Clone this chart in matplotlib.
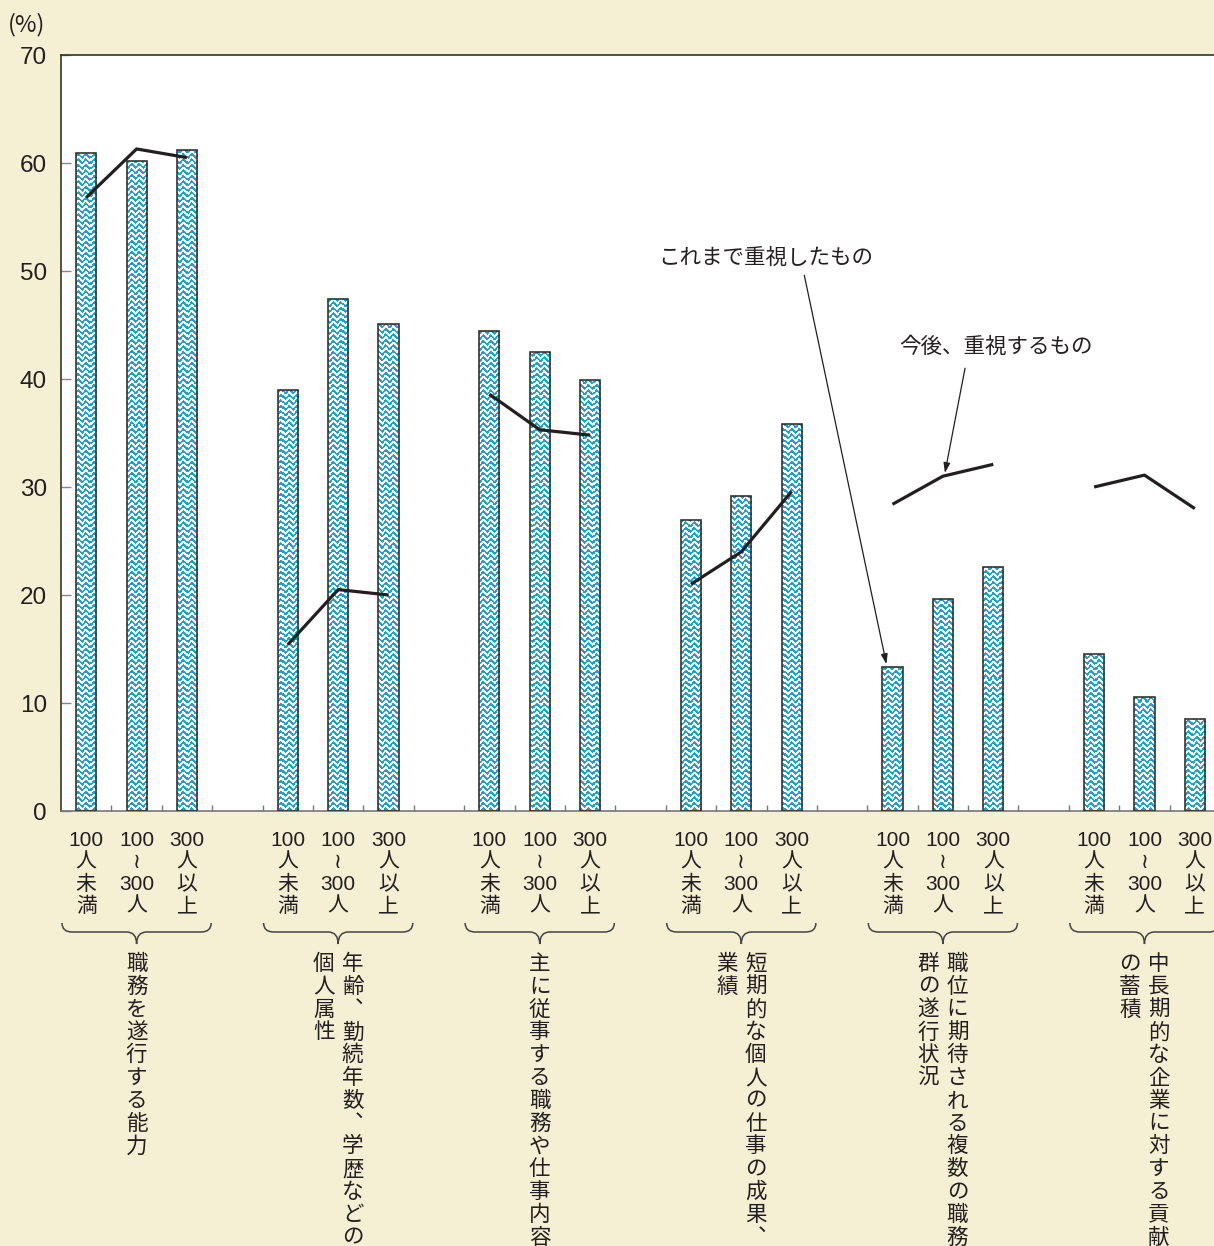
import numpy as np
import matplotlib.pyplot as plt
from matplotlib.path import Path
from matplotlib.patches import PathPatch
from matplotlib.transforms import blended_transform_factory
from matplotlib import font_manager
from matplotlib.ft2font import FT2Font

# data (values in %)
so_far = [[60.9, 60.2, 61.2],
          [39.0, 47.4, 45.1],
          [44.4, 42.5, 39.9],
          [26.9, 29.2, 35.8],
          [13.3, 19.6, 22.6],
          [14.5, 10.6, 8.5]]
future = [[56.8, 61.3, 60.5],
          [15.4, 20.5, 20.0],
          [38.6, 35.3, 34.8],
          [21.0, 24.0, 29.6],
          [28.4, 31.0, 32.1],
          [30.0, 31.1, 28.0]]
size_labels = [["100", "人", "未", "満"],
               ["100", "≀", "300", "人"],
               ["300", "人", "以", "上"]]
group_labels = [["職務を遂行する能力"],
                ["年齢、勤続年数、学歴などの", "個人属性"],
                ["主に従事する職務や仕事内容"],
                ["短期的な個人の仕事の成果、", "業績"],
                ["職位に期待される複数の職務", "群の遂行状況"],
                ["中長期的な企業に対する貢献", "の蓄積"]]
label_past = "これまで重視したもの"
label_future = "今後、重視するもの"

BG = "#F5EFD3"
CYAN = "#1EA2CD"
INK = "#231F20"
JP = ["Noto Sans CJK JP", "DejaVu Sans"]

# vertical-form comma if the CJK font has it
try:
    cmap = FT2Font(font_manager.findfont("Noto Sans CJK JP")).get_charmap()
    VCOMMA = "\ufe11" if 0xFE11 in cmap else None
except Exception:
    VCOMMA = None

W, H = 1214, 1246
AX_L, AX_T, AX_B = 61, 55, 811
fig = plt.figure(figsize=(W / 100, H / 100), dpi=100, facecolor=BG)
ax = fig.add_axes([AX_L / W, (H - AX_B) / H, (W - AX_L) / W, (AX_B - AX_T) / H])
ax.set_facecolor("white")

XMAX = 22.38
px_per_slot = (W - AX_L) / (XMAX + 0.5)
axh = AX_B - AX_T


def yfrac(ypx):
    return (AX_B - ypx) / axh


# wavy fill pattern in pixel units
pw, ph = W - AX_L, axh
xx, yy = np.meshgrid(np.arange(pw), np.arange(ph))
phase = (yy + 1.6 * np.sin(2 * np.pi * xx / 7.5)) % 5.5
img = np.ones((ph, pw, 3))
rgb = np.array([int(CYAN[i:i + 2], 16) / 255 for i in (1, 3, 5)])
img[phase < 2.6] = rgb

for g in range(6):
    xs = [4 * g + i for i in range(3)]
    bars = ax.bar(xs, so_far[g], width=0.4, facecolor="none",
                  edgecolor="#333333", lw=1.2, zorder=3)
    for b in bars:
        im = ax.imshow(img, extent=[-0.5, XMAX, 0, 70], origin="upper",
                       interpolation="nearest", aspect="auto", zorder=2)
        im.set_clip_path(b)
    ax.plot(xs, future[g], color=INK, lw=2.3, zorder=4, solid_capstyle="butt")

ax.set_xlim(-0.5, XMAX)
ax.set_ylim(0, 70)

# axes styling
ax.spines["right"].set_visible(False)
ax.spines["top"].set_color("#333333")
ax.spines["left"].set_color("#333333")
ax.spines["bottom"].set_color("#777777")
for s in ax.spines.values():
    s.set_linewidth(1.2)
ax.set_yticks(range(0, 71, 10))
ax.tick_params(axis="y", direction="in", length=7, width=1, color="#888888",
               pad=10, labelsize=17.5, labelcolor=INK)
for lab in ax.get_yticklabels():
    lab.set_family("Liberation Sans")
ax.set_xticks([])
ax.set_xticks(np.arange(0.5, XMAX, 1), minor=True)
ax.tick_params(axis="x", which="minor", direction="in", length=4, width=1,
               color="#777777")

fig.text(8 / W, 1 - 25 / H, "(%)", fontsize=17, color=INK, va="center",
         family=JP)

tr = blended_transform_factory(ax.transData, ax.transAxes)

# bar size labels (stacked)
for g in range(6):
    for i in range(3):
        x = 4 * g + i
        for k, s in enumerate(size_labels[i]):
            fam = ["Liberation Sans Narrow", "Liberation Sans"] if s.isdigit() else JP
            ax.text(x, yfrac(840 + 22 * k), s, transform=tr, ha="center",
                    va="center", fontsize=15, color=INK, family=fam,
                    clip_on=False)

# braces
bx = 1.48
r = 10 / px_per_slot
y_end, y_mid, y_tip = yfrac(923), yfrac(932), yfrac(944)
for g in range(6):
    c = 4 * g + 1
    verts = [(c - bx, y_end), (c - bx, y_mid), (c - bx + r, y_mid),
             (c - r, y_mid),
             (c, y_mid), (c, y_tip),
             (c, y_mid), (c + r, y_mid),
             (c + bx - r, y_mid),
             (c + bx, y_mid), (c + bx, y_end)]
    codes = [Path.MOVETO, Path.CURVE3, Path.CURVE3, Path.LINETO,
             Path.CURVE3, Path.CURVE3, Path.CURVE3, Path.CURVE3,
             Path.LINETO, Path.CURVE3, Path.CURVE3]
    ax.add_patch(PathPatch(Path(verts, codes), transform=tr, fill=False,
                           edgecolor="#444444", lw=1.1, clip_on=False))

# vertical group labels, columns right to left
col_off = 14.5 / px_per_slot
pitch = 22.8
for g in range(6):
    c = 4 * g + 1
    cols = group_labels[g]
    n = len(cols)
    for j, col in enumerate(cols):
        x = c + col_off * (n - 1) - 2 * col_off * j
        for k, ch in enumerate(col):
            yy_px = 964 + pitch * k
            dx = 0
            if ch == "、":
                if VCOMMA:
                    ch = VCOMMA
                else:
                    dx = 8 / px_per_slot
                    yy_px -= 4
            ax.text(x + dx, yfrac(yy_px), ch, transform=tr, ha="center",
                    va="center", fontsize=15.5, color=INK, family=JP,
                    clip_on=False)

# callouts
ax.text(13.49, 51.2, label_past, ha="center", va="center", fontsize=15.5,
        color=INK, family=JP)
ax.annotate("", xy=(15.88, 13.6), xytext=(14.25, 49.6),
            arrowprops=dict(arrowstyle="-|>,head_length=0.6,head_width=0.2",
                            color=INK, lw=0.9, shrinkA=0, shrinkB=0), zorder=5)
ax.text(18.06, 43.0, label_future, ha="center", va="center", fontsize=15.5,
        color=INK, family=JP)
ax.annotate("", xy=(17.04, 31.3), xytext=(17.44, 41.0),
            arrowprops=dict(arrowstyle="-|>,head_length=0.6,head_width=0.2",
                            color=INK, lw=0.9, shrinkA=0, shrinkB=0), zorder=5)

fig.savefig("out.png", dpi=100, facecolor=BG)
